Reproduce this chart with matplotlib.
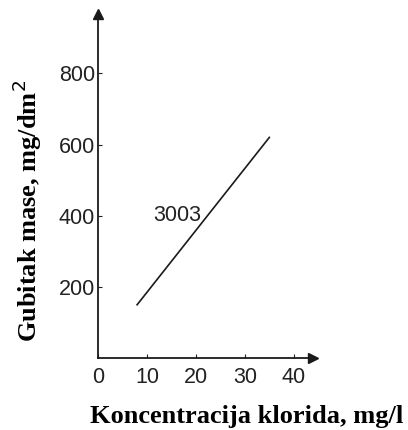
import numpy as np
import matplotlib.pyplot as plt

# Podaci očitani sa slike
konc = [8, 35]          # mg/l
gubitak = [150, 620]    # mg/dm2
oznaka = '3003'
x_ticks = [0, 10, 20, 30, 40]
y_ticks = [200, 400, 600, 800]

fig = plt.figure(figsize=(4.08, 4.30), dpi=100)
ax = fig.add_axes([0.240, 0.167, 0.527, 0.80])

ax.plot(konc, gubitak, color='#1a1a1a', lw=1.2)
ax.text(16.2, 400, oznaka, fontsize=15.5, family='Liberation Sans',
        color='#222222', ha='center', va='center')

ax.set_xlim(0, 43.9)
ax.set_ylim(0, 966)
ax.set_xticks(x_ticks)
ax.set_yticks(y_ticks)
ax.tick_params(direction='in', length=3, width=0.8, pad=2,
               labelsize=15.5, colors='#222222')
ax.tick_params(axis='x', pad=6)
for lbl in ax.get_xticklabels() + ax.get_yticklabels():
    lbl.set_family('Liberation Sans')

for s in ['top', 'right']:
    ax.spines[s].set_visible(False)
for s in ['left', 'bottom']:
    ax.spines[s].set_linewidth(1.3)
    ax.spines[s].set_color('#1a1a1a')

# strelice na krajevima osi
ax.plot(1, 0, marker='>', ms=7, color='#1a1a1a', transform=ax.transAxes, clip_on=False)
ax.plot(0, 1, marker='^', ms=7, color='#1a1a1a', transform=ax.transAxes, clip_on=False)

fig.text(0.605, 0.032, 'Koncentracija klorida, mg/l', family='Liberation Serif',
         fontweight='bold', fontsize=19, ha='center', va='center')
fig.text(0.066, 0.509, 'Gubitak mase, mg/dm$^2$', family='Liberation Serif',
         fontweight='bold', fontsize=19, ha='center', va='center', rotation=90)

fig.savefig('out.png', dpi=100)
